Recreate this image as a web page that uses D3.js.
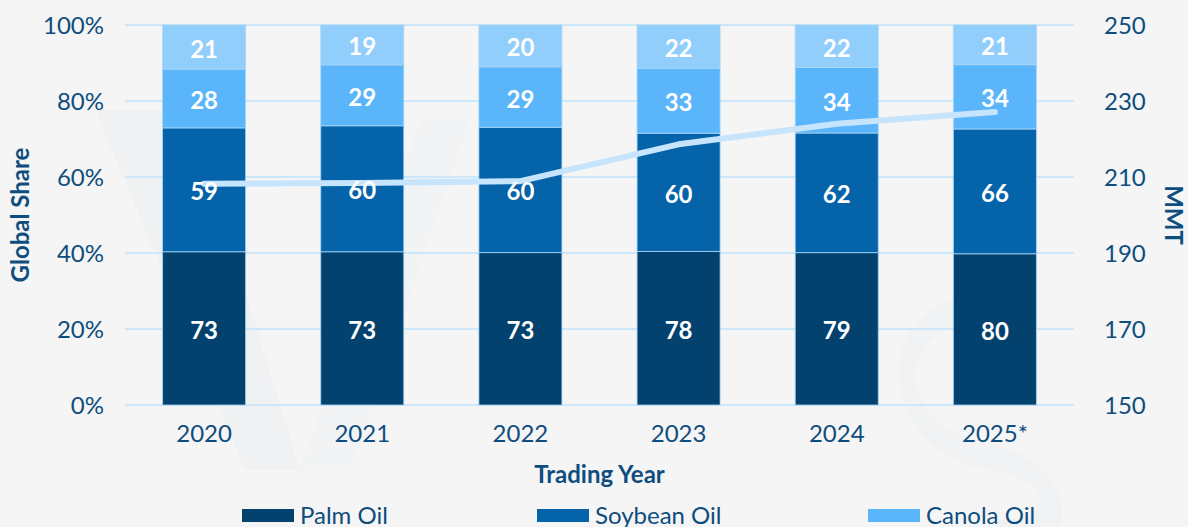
<!DOCTYPE html>
<html>
<head>
<meta charset="utf-8">
<script src="https://cdn.jsdelivr.net/npm/d3@7"></script>
<style>
  html, body { margin: 0; padding: 0; background: #F5F5F5; }
  svg { display: block; font-family: Lato, "Open Sans", sans-serif; }
</style>
</head>
<body>
<svg id="chart" width="1188" height="527"></svg>
<script>
// ---- Data ----
const years = ["2020", "2021", "2022", "2023", "2024", "2025*"];
const palmOil   = [73, 73, 73, 78, 79, 80];
const soybeanOil = [59, 60, 60, 60, 62, 66];
const canolaOil = [28, 29, 29, 33, 34, 34];
const otherOil  = [21, 19, 20, 22, 22, 21];
const totalMMT  = [208.2, 208.4, 208.9, 218.6, 224.0, 227.1];
const leftTicks = [0, 0.2, 0.4, 0.6, 0.8, 1.0];
const rightTicks = [150, 170, 190, 210, 230, 250];
const seriesNames = ["Palm Oil", "Soybean Oil", "Canola Oil", "Other"];
const legendNames = ["Palm Oil", "Soybean Oil", "Canola Oil"];

// ---- Styles ----
const colors = { "Palm Oil": "#03426F", "Soybean Oil": "#0563AA", "Canola Oil": "#5AB5FA", "Other": "#91CEFB" };
const textColor = "#0E4D7E";
const gridColor = "#CDE7FA";

const svg = d3.select("#chart");
const W = 1188, H = 527;
const m = { left: 125, right: 114, top: 25, bottom: 122 };
const x0 = m.left, x1 = W - m.right, y0 = H - m.bottom, y1 = m.top;

svg.append("rect").attr("width", W).attr("height", H).attr("fill", "#F5F5F5");

// faint watermark shapes
const wm = svg.append("g").attr("fill", "#F0F1F3");
wm.append("path").attr("d", "M95,110 L190,110 L300,470 L245,470 Z");
wm.append("path").attr("d", "M300,470 L420,120 L470,120 L350,470 Z").attr("opacity", 0.6);
wm.append("path").attr("d", "M1010,330 C900,300 880,420 980,440 C1080,460 1100,560 980,560 L1000,520 C1060,520 1050,480 990,470 C860,450 870,270 1010,300 Z").attr("opacity", 0.7);

const data = years.map((y, i) => {
  const vals = [palmOil[i], soybeanOil[i], canolaOil[i], otherOil[i]];
  const sum = d3.sum(vals);
  const o = { year: y };
  seriesNames.forEach((s, k) => { o[s] = vals[k] / sum; o[s + "_v"] = vals[k]; });
  return o;
});

const x = d3.scaleBand().domain(years).range([x0, x1]).paddingInner(0.475).paddingOuter(0.2375);
const yL = d3.scaleLinear().domain([0, 1]).range([y0, y1]);
const yR = d3.scaleLinear().domain([150, 250]).range([y0, y1]);

// gridlines
svg.append("g").selectAll("line").data(leftTicks).join("line")
  .attr("x1", x0).attr("x2", x1)
  .attr("y1", d => yL(d)).attr("y2", d => yL(d))
  .attr("stroke", gridColor).attr("stroke-width", 2);

// stacked bars
const stack = d3.stack().keys(seriesNames)(data);
const gBars = svg.append("g");
stack.forEach(layer => {
  gBars.append("g").selectAll("rect").data(layer).join("rect")
    .attr("x", d => x(d.data.year))
    .attr("width", x.bandwidth())
    .attr("y", d => yL(d[1]))
    .attr("height", d => yL(d[0]) - yL(d[1]))
    .attr("fill", colors[layer.key])
    .attr("stroke", "#A9D6F7").attr("stroke-width", 1).attr("stroke-opacity", 0.8);
});

// line (total MMT)
const line = d3.line().x((d, i) => x(years[i]) + x.bandwidth() / 2).y(d => yR(d));
svg.append("path").datum(totalMMT).attr("d", line)
  .attr("fill", "none").attr("stroke", "#C6E4FB").attr("stroke-width", 6)
  .attr("stroke-linecap", "round").attr("stroke-linejoin", "round");

// bar value labels
stack.forEach(layer => {
  svg.append("g").selectAll("text").data(layer).join("text")
    .attr("x", d => x(d.data.year) + x.bandwidth() / 2)
    .attr("y", d => (yL(d[0]) + yL(d[1])) / 2 + 1)
    .attr("text-anchor", "middle").attr("dominant-baseline", "central")
    .attr("fill", "#FFFFFF").attr("font-weight", 700).attr("font-size", 24)
    .text(d => d.data[layer.key + "_v"]);
});

// axes
const axL = d3.axisLeft(yL).tickValues(leftTicks).tickFormat(d3.format(".0%")).tickSize(0).tickPadding(21);
const gL = svg.append("g").attr("transform", `translate(${x0},0)`).call(axL);
const axR = d3.axisRight(yR).tickValues(rightTicks).tickSize(0).tickPadding(30);
const gR = svg.append("g").attr("transform", `translate(${x1},0)`).call(axR);
const axB = d3.axisBottom(x).tickSize(0).tickPadding(20);
const gB = svg.append("g").attr("transform", `translate(0,${y0})`).call(axB);
[gL, gR, gB].forEach(g => {
  g.select(".domain").remove();
  g.selectAll("text").attr("fill", textColor).attr("font-size", 24).attr("font-family", "Lato, sans-serif");
});
gL.selectAll("text").attr("dy", "0.35em");
gR.selectAll("text").attr("dy", "0.35em");
gB.selectAll("text").attr("dy", "0.71em");

// axis titles
svg.append("text").attr("transform", `translate(29,${(y0 + y1) / 2}) rotate(-90)`)
  .attr("text-anchor", "middle").attr("fill", textColor).attr("font-weight", 700).attr("font-size", 24)
  .text("Global Share");
svg.append("text").attr("transform", `translate(1165,${(y0 + y1) / 2}) rotate(90)`)
  .attr("text-anchor", "middle").attr("fill", textColor).attr("font-weight", 700).attr("font-size", 24)
  .text("MMT");
svg.append("text").attr("x", (x0 + x1) / 2).attr("y", 483)
  .attr("text-anchor", "middle").attr("fill", textColor).attr("font-weight", 700).attr("font-size", 24)
  .text("Trading Year");

// legend
const legendX = [242, 537, 868];
const lg = svg.append("g").selectAll("g").data(legendNames).join("g")
  .attr("transform", (d, i) => `translate(${legendX[i]},509)`);
lg.append("rect").attr("width", 52).attr("height", 13).attr("fill", d => colors[d]);
lg.append("text").attr("x", 58).attr("y", 6).attr("dy", "0.38em")
  .attr("fill", textColor).attr("font-size", 24).text(d => d);
</script>
</body>
</html>
